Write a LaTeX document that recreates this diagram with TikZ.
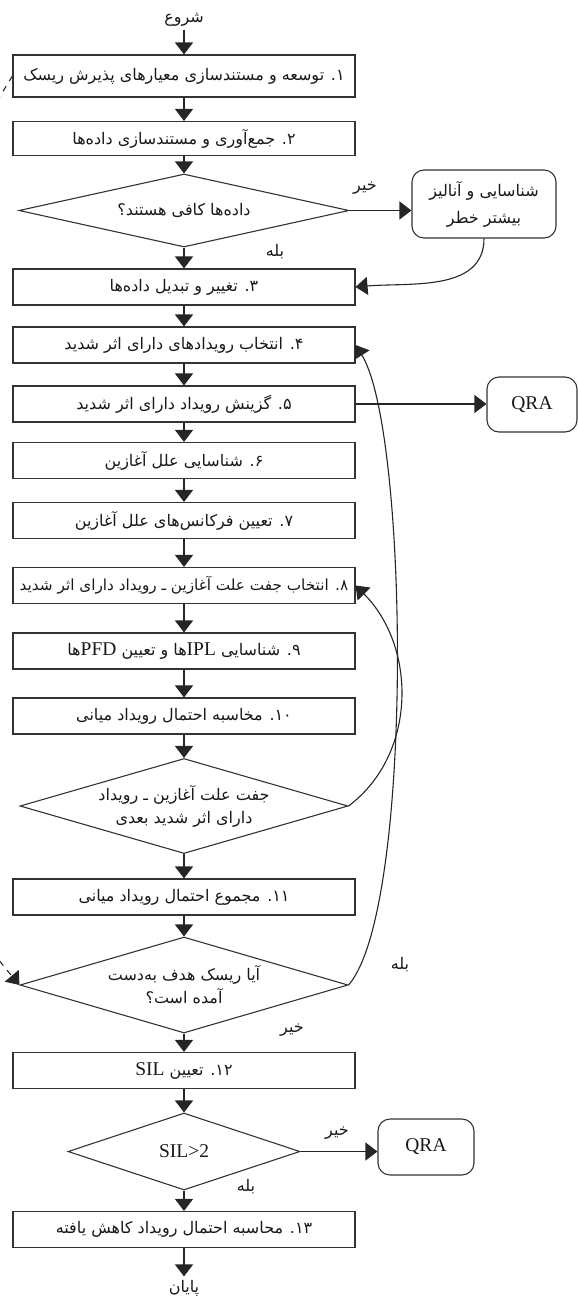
\documentclass[tikz,border=0pt]{standalone}
\usepackage{fontspec}
\setmainfont{Liberation Serif}
\newfontfamily\arabicfont[Script=Arabic,Scale=0.82]{DejaVu Sans}
\TeXXeTstate=1
\usetikzlibrary{shapes.geometric,arrows.meta}

\newcommand{\fa}[1]{{\arabicfont\beginR #1\endR}}
\newcommand{\la}[1]{{\rmfamily\beginL #1\endL}}

\begin{document}
\begin{tikzpicture}[x=1pt,y=1pt,
  font=\fontsize{19.5}{23}\selectfont,
  every node/.style={text=black!90},
  stepBox/.style={draw=black!80,line width=1.1pt,minimum width=342pt,minimum height=36pt,inner sep=0pt},
  decisionBox/.style={diamond,draw=black!80,line width=1.1pt,aspect=3.4,inner sep=0pt,align=center},
  roundBox/.style={draw=black!80,line width=1.1pt,rounded corners=12pt,inner sep=0pt,align=center},
  flowArrow/.style={draw=black!85,line width=1.1pt,-{Triangle[width=18pt,length=12pt]}},
  edgeLabel/.style={inner sep=1pt}]
  \useasboundingbox (0,0) rectangle (578,-1302);

  % main column
  \node (start) at (184,-20) {\fa{شروع}};
  \node[stepBox,minimum height=42pt] (b1) at (184,-76) {\fa{۱. توسعه و مستندسازی معیارهای پذیرش ریسک}};
  \node[stepBox,minimum height=34pt] (b2) at (184,-138.5) {\fa{۲. جمع‌آوری و مستندسازی داده‌ها}};
  \node[decisionBox,minimum width=330pt,minimum height=73pt] (d1) at (184,-210.5) {\fa{داده‌ها کافی هستند؟}};
  \node[stepBox] (b3) at (184,-287) {\fa{۳. تغییر و تبدیل داده‌ها}};
  \node[stepBox] (b4) at (184,-345) {\fa{۴. انتخاب رویدادهای دارای اثر شدید}};
  \node[stepBox] (b5) at (184,-404) {\fa{۵. گزینش رویداد دارای اثر شدید}};
  \node[stepBox] (b6) at (184,-460.5) {\fa{۶. شناسایی علل آغازین}};
  \node[stepBox] (b7) at (184,-520.5) {\fa{۷. تعیین فرکانس‌های علل آغازین}};
  \node[stepBox,font=\fontsize{18.6}{22}\selectfont] (b8) at (184,-585.5) {\fa{۸. انتخاب جفت علت آغازین ـ رویداد دارای اثر شدید}};
  \node[stepBox] (b9) at (184,-651) {\fa{۹. شناسایی \la{IPL}ها و تعیین \la{PFD}ها}};
  \node[stepBox] (b10) at (184,-716) {\fa{۱۰. مخاسبه احتمال رویداد میانی}};
  \node[decisionBox,minimum width=328pt,minimum height=95pt] (d2) at (184,-806) {\fa{جفت علت آغازین ـ رویداد}\\\fa{دارای اثر شدید بعدی}};
  \node[stepBox] (b11) at (184,-897) {\fa{۱۱. مجموع احتمال رویداد میانی}};
  \node[decisionBox,minimum width=328pt,minimum height=96pt] (d3) at (184,-985) {\fa{آیا ریسک هدف به‌دست}\\\fa{آمده است؟}};
  \node[stepBox] (b12) at (184,-1070.5) {\fa{۱۲. تعیین \la{SIL}}};
  \node[decisionBox,minimum width=232pt,minimum height=77pt] (d4) at (184,-1151.5) {SIL>2};
  \node[stepBox] (b13) at (184,-1229.5) {\fa{۱۳. محاسبه احتمال رویداد کاهش یافته}};
  \node (finish) at (184,-1288) {\fa{پایان}};

  % side boxes
  \node[roundBox,minimum width=144pt,minimum height=68pt] (risk) at (484,-204) {\fa{شناسایی و آنالیز}\\[4pt]\fa{بیشتر خطر}};
  \node[roundBox,minimum width=90pt,minimum height=55pt] (qra1) at (532,-404.5) {QRA};
  \node[roundBox,minimum width=96pt,minimum height=56pt] (qra2) at (426,-1147) {QRA};

  % labels
  \node[edgeLabel] (no1) at (365,-188) {\fa{خیر}};
  \node[edgeLabel] (yes1) at (275,-252) {\fa{بله}};
  \node[edgeLabel] (yes3) at (400,-965) {\fa{بله}};
  \node[edgeLabel] (no3) at (292,-1030) {\fa{خیر}};
  \node[edgeLabel] (no4) at (337,-1133) {\fa{خیر}};
  \node[edgeLabel] (yes4) at (246,-1187) {\fa{بله}};

  \draw[flowArrow] (start) -- (b1);
  \draw[flowArrow] (b1) -- (b2);
  \draw[flowArrow] (b2) -- (d1);
  \draw[flowArrow] (d1) -- (b3);
  \draw[flowArrow] (b3) -- (b4);
  \draw[flowArrow] (b4) -- (b5);
  \draw[flowArrow] (b5) -- (b6);
  \draw[flowArrow] (b6) -- (b7);
  \draw[flowArrow] (b7) -- (b8);
  \draw[flowArrow] (b8) -- (b9);
  \draw[flowArrow] (b9) -- (b10);
  \draw[flowArrow] (b10) -- (d2);
  \draw[flowArrow] (d2) -- (b11);
  \draw[flowArrow] (b11) -- (d3);
  \draw[flowArrow] (d3) -- (b12);
  \draw[flowArrow] (b12) -- (d4);
  \draw[flowArrow] (d4) -- (b13);
  \draw[flowArrow] (b13) -- (finish);

  \draw[flowArrow] (d1.east) -- (d1.east -| risk.west);
  \draw[flowArrow] (risk.south) to[out=-90,in=5] (b3.east);
  \draw[flowArrow] (b5.east) -- (b5.east -| qra1.west);
  \draw[flowArrow] (d2.east) to[out=37,in=-45] (b8.east);
  \draw[flowArrow] (d3.east) to[out=49,in=-58,looseness=0.4] (b4.east);
  \draw[flowArrow] (d4.east) -- (d4.east -| qra2.west);
  \draw[flowArrow,dash pattern=on 6pt off 6pt] (b1.west) to[out=238,in=130] (d3.west);
\end{tikzpicture}
\end{document}
